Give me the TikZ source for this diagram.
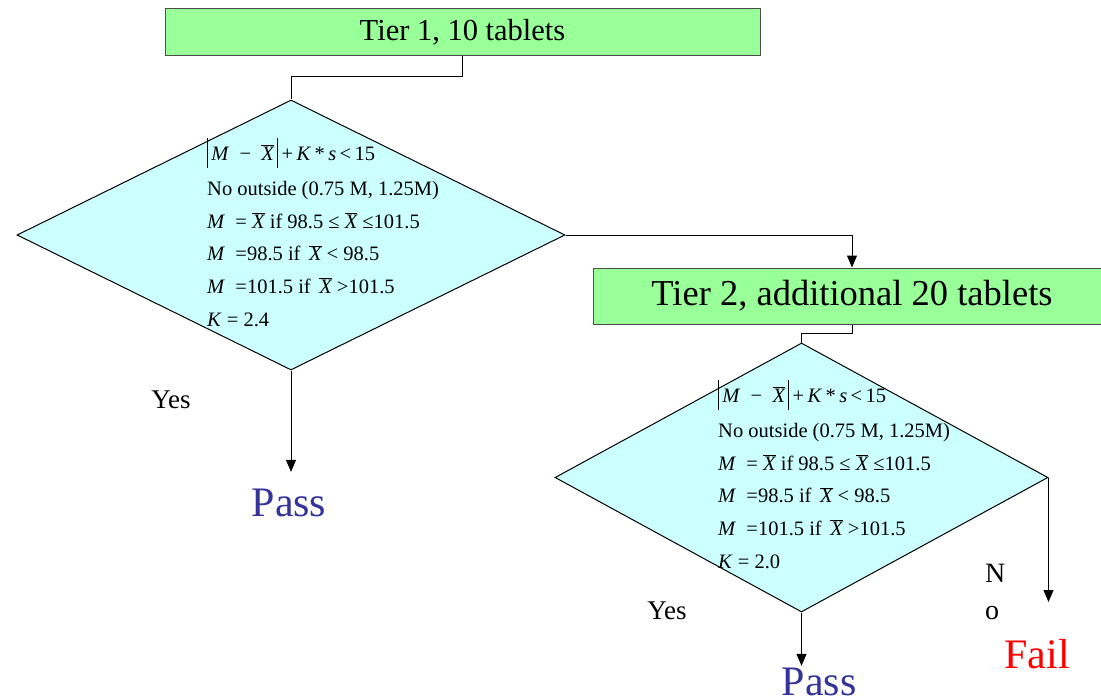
\documentclass[tikz,border=0pt]{standalone}
\usepackage{fontspec}
\setmainfont{Liberation Serif}
\usetikzlibrary{shapes.geometric,arrows.meta}

\definecolor{tiergreen}{HTML}{99FF99}
\definecolor{testcyan}{HTML}{CCFFFF}
\definecolor{passblue}{HTML}{333399}

\def\xmean{$\overline{\mbox{\itshape X}}$}
\def\absbar{\rule[-8pt]{0.8pt}{30pt}}
\newcommand{\testlines}[1]{%
  \absbar\,\textit{M}\enspace−\enspace\xmean\,\absbar\,+\,\textit{K}\,*\,\textit{s}\,<\,15\\[3pt]
  No outside (0.75 M, 1.25M)\\
  \textit{M}\enspace= \xmean{} if 98.5 ≤ \xmean{} ≤101.5\\
  \textit{M}\enspace=98.5 if \,\xmean{} < 98.5\\
  \textit{M}\enspace=101.5 if \,\xmean{} >101.5\\
  \textit{K} = #1}

\begin{document}
\begin{tikzpicture}[x=1pt, y=-1pt,
    tier/.style={draw=black!70, fill=tiergreen, inner sep=0pt, line width=1pt},
    test/.style={diamond, draw, fill=testcyan, inner sep=0pt, line width=1pt},
    cond/.style={anchor=base west, align=left, inner sep=0pt, font=\fontsize{20.5}{32.6}\selectfont},
    answer/.style={inner sep=0pt, font=\fontsize{27}{30}\selectfont},
    verdict/.style={inner sep=2pt, font=\fontsize{42}{42}\selectfont},
    link/.style={line width=1pt},
    flow/.style={line width=1pt, -{Triangle[width=10pt,length=12pt]}}]
  \useasboundingbox (0,0) rectangle (1101,698);
  \node[tier, minimum width=595pt, minimum height=47pt, font=\fontsize{30.5}{30.5}\selectfont] (tier1) at (462.5,32.5) {Tier 1, 10 tablets};
  \node[test, minimum width=548pt, minimum height=270pt] (test1) at (291,235) {};
  \node[cond] (cond1) at (207,326) {\testlines{2.4}};
  \draw[link] (tier1.south) -- ++(0,20) -| (test1.north);
  \node[tier, minimum width=518pt, minimum height=56pt, font=\fontsize{36.5}{36.5}\selectfont] (tier2) at (852,296) {Tier 2, additional 20 tablets};
  \draw[flow] (test1.east) -| (tier2.north);
  \node[test, minimum width=493pt, minimum height=269pt] (test2) at (801.5,477.5) {};
  \node[cond] (cond2) at (718,568) {\testlines{2.0}};
  \draw[link] (tier2.south) -- ++(0,9) -| (test2.north);
  \node[answer] (yes1) at (171,400) {Yes};
  \node[verdict, text=passblue] (pass1) at (289,503) {Pass};
  \draw[flow, shorten >=15pt] (test1.south) -- (test1.south |- pass1.north);
  \node[answer] (yes2) at (667,611) {Yes};
  \node[verdict, text=passblue] (pass2) at (819,682) {Pass};
  \draw[flow] (test2.south) -- (test2.south |- pass2.north);
  \node[answer, anchor=west, align=left, font=\fontsize{28}{37}\selectfont] (no) at (985,592) {N\\o};
  \node[verdict, text=red] (fail) at (1037,654) {Fail};
  \coordinate (failend) at (1048,602);
  \draw[flow] (test2.east) -- (test2.east |- failend);
\end{tikzpicture}
\end{document}
